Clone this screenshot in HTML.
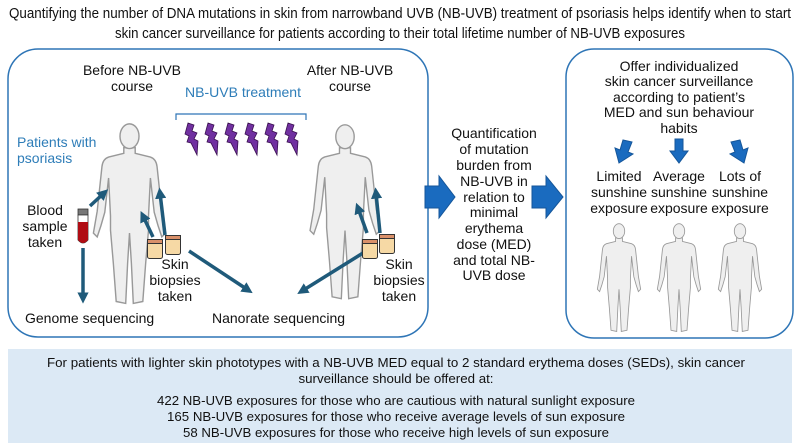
<!DOCTYPE html>
<html><head><meta charset="utf-8"><style>
html,body{margin:0;padding:0;background:#fff}
svg{display:block}
text{font-family:"Liberation Sans",sans-serif;fill:#111}
</style></head><body>
<svg width="800" height="446" viewBox="0 0 800 446" xmlns="http://www.w3.org/2000/svg">
<defs>
<symbol id="body" viewBox="0 0 100 200" overflow="visible">
<path d="M44,28 L44,34 L28,38 Q22,40 21,48 L16,95 L12,118 L16,122 L20,110 L24,96 L28,60 L30,100 L30,115 L33,150 L36,190 L46,192 L48,150 L50,118 L52,150 L54,192 L64,190 L67,150 L70,115 L70,100 L72,60 L76,96 L80,110 L84,122 L88,118 L84,95 L79,48 Q78,40 72,38 L56,34 L56,28 Z" fill="#efefef" stroke="#999" stroke-width="1.5"/>
<ellipse cx="50" cy="16" rx="10" ry="13" fill="#efefef" stroke="#999" stroke-width="1.5"/>
</symbol>
<symbol id="bolt" viewBox="0 0 14 32" overflow="visible">
<path d="M3,0 L9,2 L7,8 L12,10 L9,16 L13,18 L12,32 L6,20 L2,19 L4,13 L0,11 Z" fill="#7030a0" stroke="#3a1050" stroke-width="0.8"/>
</symbol>
<symbol id="jar" viewBox="0 0 16 20" overflow="visible">
<rect x="0.5" y="0.5" width="15" height="19" rx="2" fill="#f6d9a5" stroke="#333" stroke-width="1"/>
<rect x="0.5" y="0.5" width="15" height="4" fill="#d9906a" stroke="#333" stroke-width="1"/>
</symbol>
<marker id="ah" viewBox="0 0 10 10" refX="5" refY="5" markerWidth="3.2" markerHeight="3.2" orient="auto"><path d="M0,0 L10,5 L0,10 Z" fill="#1f5a7a"/></marker>
</defs>

<text x="400" y="18" font-size="15" text-anchor="middle" textLength="782" lengthAdjust="spacingAndGlyphs">Quantifying the number of DNA mutations in skin from narrowband UVB (NB-UVB) treatment of psoriasis helps identify when to start</text>
<text x="400" y="38" font-size="15" text-anchor="middle" textLength="570" lengthAdjust="spacingAndGlyphs">skin cancer surveillance for patients according to their total lifetime number of NB-UVB exposures</text>

<rect x="8" y="49" width="420" height="288" rx="30" fill="none" stroke="#2e75b6" stroke-width="1.5"/>
<rect x="566" y="49" width="227" height="289" rx="28" fill="none" stroke="#2e75b6" stroke-width="1.5"/>
<rect x="8" y="349" width="784" height="94" fill="#dce9f5"/>

<g font-size="14">
<text x="132" y="75" text-anchor="middle">Before NB-UVB</text>
<text x="132" y="91" text-anchor="middle">course</text>
<text x="350" y="75" text-anchor="middle">After NB-UVB</text>
<text x="350" y="91" text-anchor="middle">course</text>
<text x="243" y="97" text-anchor="middle" style="fill:#2e7db8">NB-UVB treatment</text>
<text x="17" y="147" style="fill:#2e7db8">Patients with</text>
<text x="17" y="163" style="fill:#2e7db8">psoriasis</text>
<text x="45" y="215" text-anchor="middle">Blood</text>
<text x="45" y="231" text-anchor="middle">sample</text>
<text x="45" y="247" text-anchor="middle">taken</text>
<text x="25" y="323">Genome sequencing</text>
<text x="212" y="323">Nanorate sequencing</text>
<text x="175" y="269" text-anchor="middle">Skin</text>
<text x="175" y="285" text-anchor="middle">biopsies</text>
<text x="175" y="301" text-anchor="middle">taken</text>
<text x="399" y="269" text-anchor="middle">Skin</text>
<text x="399" y="285" text-anchor="middle">biopsies</text>
<text x="399" y="301" text-anchor="middle">taken</text>
</g>

<path d="M176,120 L176,114 L306,114 L306,120" fill="none" stroke="#2e75b6" stroke-width="1.2"/>
<use href="#bolt" x="185" y="123" width="14" height="32"/>
<use href="#bolt" x="205" y="123" width="14" height="32"/>
<use href="#bolt" x="225" y="123" width="14" height="32"/>
<use href="#bolt" x="245" y="123" width="14" height="32"/>
<use href="#bolt" x="265" y="123" width="14" height="32"/>
<use href="#bolt" x="285" y="123" width="14" height="32"/>

<use href="#body" x="82" y="121" width="95" height="190"/>
<use href="#body" x="299" y="122" width="92" height="184"/>

<!-- blood tube -->
<rect x="78" y="209" width="10" height="6" fill="#777" stroke="#333" stroke-width="0.8"/>
<path d="M78,215 L88,215 L88,240 Q83,246 78,240 Z" fill="#fff" stroke="#333" stroke-width="0.8"/>
<path d="M78,222 L88,222 L88,240 Q83,246 78,240 Z" fill="#b00d14"/>

<g stroke="#1f5a7a" stroke-width="3.5" fill="none" marker-end="url(#ah)">
<line x1="90" y1="206" x2="104" y2="193"/>
<line x1="83" y1="248" x2="83" y2="298"/>
<line x1="153" y1="237" x2="143" y2="216"/>
<line x1="165" y1="235" x2="160" y2="193"/>
<line x1="189" y1="251" x2="248" y2="290"/>
<line x1="363" y1="253" x2="302" y2="291"/>
<line x1="367" y1="233" x2="358" y2="208"/>
<line x1="380" y1="233" x2="376" y2="193"/>
</g>
<use href="#jar" x="147" y="239" width="16" height="20"/>
<use href="#jar" x="165" y="235" width="16" height="20"/>
<use href="#jar" x="362" y="239" width="16" height="20"/>
<use href="#jar" x="379" y="234" width="16" height="20"/>

<!-- big arrows -->
<path d="M425,186 L439,186 L439,176 L455,197 L439,218 L439,208 L425,208 Z" fill="#1a6bbf" stroke="#15569a"/>
<path d="M532,186 L546,186 L546,176 L563,197 L546,218 L546,208 L532,208 Z" fill="#1a6bbf" stroke="#15569a"/>

<g font-size="14" text-anchor="middle">
<text x="494" y="138">Quantification</text>
<text x="494" y="154">of mutation</text>
<text x="494" y="170">burden from</text>
<text x="494" y="186">NB-UVB in</text>
<text x="494" y="202">relation to</text>
<text x="494" y="217">minimal</text>
<text x="494" y="233">erythema</text>
<text x="494" y="249">dose (MED)</text>
<text x="494" y="265">and total NB-</text>
<text x="494" y="280">UVB dose</text>

<text x="679" y="71">Offer individualized</text>
<text x="679" y="86">skin cancer surveillance</text>
<text x="679" y="102">according to patient’s</text>
<text x="679" y="117">MED and sun behaviour</text>
<text x="679" y="133">habits</text>
<text x="619" y="181">Limited</text>
<text x="619" y="197">sunshine</text>
<text x="619" y="213">exposure</text>
<text x="679" y="181">Average</text>
<text x="679" y="197">sunshine</text>
<text x="679" y="213">exposure</text>
<text x="740" y="181">Lots of</text>
<text x="740" y="197">sunshine</text>
<text x="740" y="213">exposure</text>
</g>

<g fill="#1a6bbf" stroke="#15569a">
<path d="M623,140 L632,142 L628,152 L633,154 L619,163 L615,148 L620,150 Z"/>
<path d="M675,139 L683,139 L683,151 L688,151 L679,163 L670,151 L675,151 Z"/>
<path d="M731,142 L740,140 L743,150 L748,148 L744,163 L730,154 L735,152 Z"/>
</g>

<use href="#body" x="590" y="222" width="58" height="114"/>
<use href="#body" x="650" y="222" width="58" height="114"/>
<use href="#body" x="711" y="222" width="58" height="114"/>

<g font-size="13" text-anchor="middle">
<text x="396" y="367" textLength="698" lengthAdjust="spacingAndGlyphs">For patients with lighter skin phototypes with a NB-UVB MED equal to 2 standard erythema doses (SEDs), skin cancer</text>
<text x="396" y="383" textLength="195" lengthAdjust="spacingAndGlyphs">surveillance should be offered at:</text>
<text x="396" y="405" textLength="478" lengthAdjust="spacingAndGlyphs">422 NB-UVB exposures for those who are cautious with natural sunlight exposure</text>
<text x="396" y="421" textLength="458" lengthAdjust="spacingAndGlyphs">165 NB-UVB exposures for those who receive average levels of sun exposure</text>
<text x="396" y="437" textLength="426" lengthAdjust="spacingAndGlyphs">58 NB-UVB exposures for those who receive high levels of sun exposure</text>
</g>
</svg>
</body></html>
